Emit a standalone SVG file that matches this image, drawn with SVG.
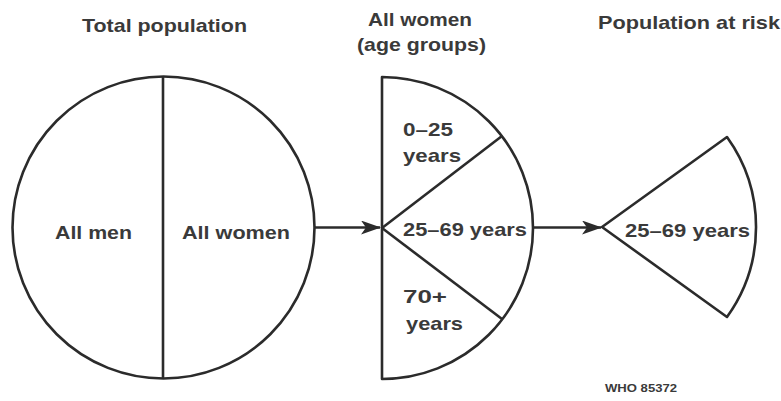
<svg xmlns="http://www.w3.org/2000/svg" width="781" height="401" viewBox="0 0 781 401">
<defs>
<style>
.shape{fill:none;stroke:#2b2b2b;stroke-width:2.6;stroke-linejoin:round}
.conn{fill:none;stroke:#2b2b2b;stroke-width:2.6}
text{font-family:"Liberation Sans",Arial,sans-serif;font-size:19px;fill:#3a3a3a;font-weight:bold}
.title{font-size:19px}
.small{font-size:11px}
</style>
<marker id="arrow" viewBox="0 0 20 14" refX="19" refY="7" markerWidth="20" markerHeight="14" markerUnits="userSpaceOnUse" orient="auto">
<path d="M0,0 L20,7 L0,14 L5,7 Z" fill="#2b2b2b"/>
</marker>
</defs>
<rect width="781" height="401" fill="#ffffff"/>

<g id="total-population">
<text class="title" x="82" y="32" textLength="165" lengthAdjust="spacingAndGlyphs">Total population</text>
<circle class="shape" cx="163.5" cy="227.5" r="151"/>
<line class="shape" x1="163" y1="76.5" x2="163" y2="378.5"/>
<text x="55" y="239" textLength="77" lengthAdjust="spacingAndGlyphs">All men</text>
<text x="182" y="239" textLength="108" lengthAdjust="spacingAndGlyphs">All women</text>
</g>

<g id="all-women">
<text class="title" x="368" y="26" textLength="104" lengthAdjust="spacingAndGlyphs">All women</text>
<text class="title" x="357" y="51" textLength="129" lengthAdjust="spacingAndGlyphs">(age groups)</text>
<path class="shape" d="M382,77 A151,151 0 0 1 382,379 Z"/>
<line class="shape" x1="382" y1="228" x2="502" y2="136"/>
<line class="shape" x1="382" y1="228" x2="502" y2="319"/>
<text x="403" y="136" textLength="50" lengthAdjust="spacingAndGlyphs">0–25</text>
<text x="403" y="162" textLength="58" lengthAdjust="spacingAndGlyphs">years</text>
<text x="403" y="236" textLength="124" lengthAdjust="spacingAndGlyphs">25–69 years</text>
<text x="403" y="303" textLength="44" lengthAdjust="spacingAndGlyphs">70+</text>
<text x="406" y="330" textLength="57" lengthAdjust="spacingAndGlyphs">years</text>
</g>

<g id="population-at-risk">
<text class="title" x="598" y="29" textLength="182" lengthAdjust="spacingAndGlyphs">Population at risk</text>
<path class="shape" d="M602,227 L727,137 A154,154 0 0 1 727,317 Z"/>
<text x="625" y="237" textLength="125" lengthAdjust="spacingAndGlyphs">25–69 years</text>
</g>

<g id="connectors">
<line class="conn" x1="315" y1="227.5" x2="380" y2="227.5" marker-end="url(#arrow)"/>
<line class="conn" x1="533" y1="227.5" x2="601" y2="227.5" marker-end="url(#arrow)"/>
</g>

<text class="small" x="605" y="392" textLength="72" lengthAdjust="spacingAndGlyphs">WHO 85372</text>
</svg>
